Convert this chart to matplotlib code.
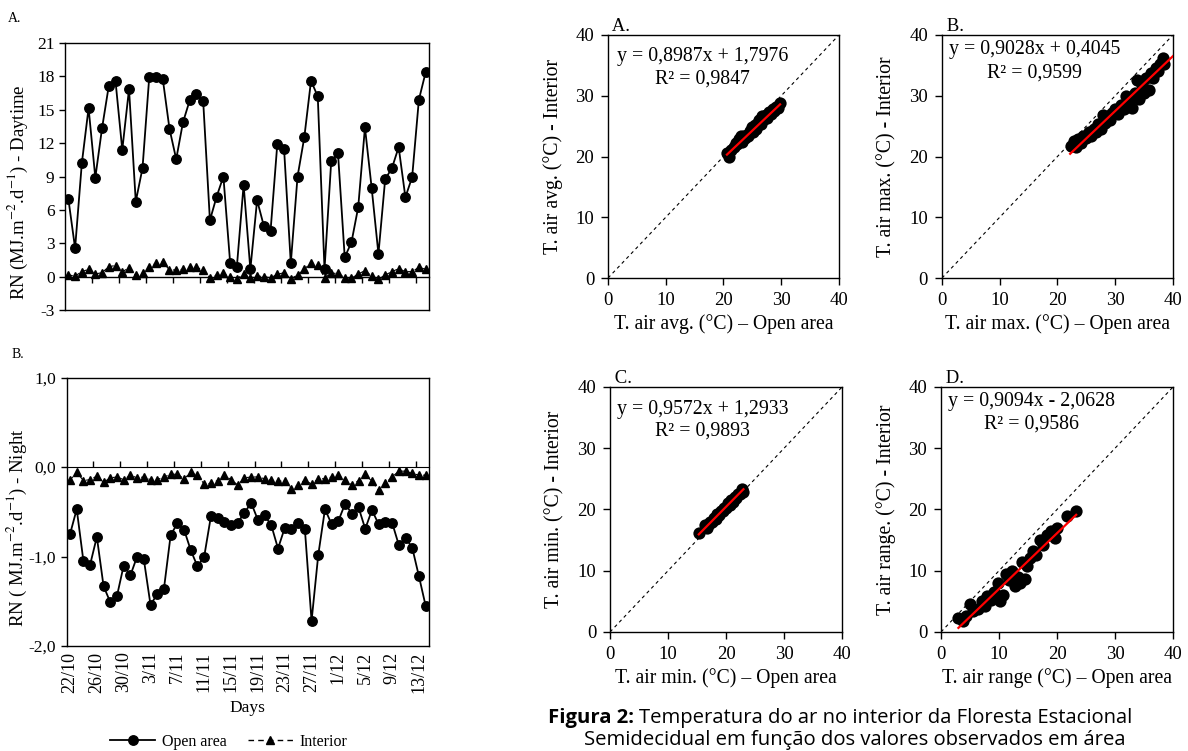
import numpy as np
import matplotlib
matplotlib.use('Agg')
import matplotlib.pyplot as plt
from matplotlib.lines import Line2D

plt.rcParams['font.family'] = ['Liberation Serif', 'DejaVu Serif']
plt.rcParams['mathtext.fontset'] = 'stix'

# ---------------- time series data (22/10 .. 14/12) ----------------
date_ticks = ["22/10", "26/10", "30/10", "3/11", "7/11", "11/11", "15/11",
              "19/11", "23/11", "27/11", "1/12", "5/12", "9/12", "13/12"]

open_day = [7.0, 2.55, 10.2, 15.15, 8.9, 13.35, 17.16, 17.55, 11.4, 16.86,
            6.75, 9.75, 17.94, 17.94, 17.8, 13.3, 10.56, 13.86, 15.84, 16.41,
            15.8, 5.07, 7.2, 9.0, 1.26, 0.9, 8.25, 0.66, 6.87, 4.56,
            4.14, 11.94, 11.49, 1.2, 9.0, 12.51, 17.61, 16.2, 0.66, 10.41,
            11.1, 1.74, 3.09, 6.24, 13.41, 7.95, 2.04, 8.76, 9.75, 11.64,
            7.14, 8.94, 15.9, 18.36]
int_day = [0.15, 0.06, 0.45, 0.66, 0.24, 0.36, 0.9, 1.0, 0.45, 0.78,
           0.12, 0.3, 0.9, 1.2, 1.32, 0.6, 0.6, 0.66, 0.84, 0.84,
           0.6, -0.1, 0.15, 0.3, 0.0, -0.2, 0.24, -0.15, 0.06, 0.0,
           -0.1, 0.2, 0.36, -0.2, 0.15, 0.66, 1.26, 1.05, -0.1, 0.3,
           0.3, -0.1, -0.15, 0.24, 0.54, 0.06, -0.24, 0.15, 0.45, 0.72,
           0.45, 0.45, 0.84, 0.66]
open_night = [-0.75, -0.47, -1.05, -1.09, -0.78, -1.33, -1.51, -1.44, -1.10, -1.21,
              -1.00, -1.03, -1.54, -1.42, -1.36, -0.76, -0.63, -0.70, -0.93, -1.11,
              -1.00, -0.55, -0.57, -0.61, -0.65, -0.62, -0.51, -0.40, -0.59, -0.54,
              -0.65, -0.91, -0.68, -0.69, -0.63, -0.69, -1.72, -0.98, -0.47, -0.64,
              -0.60, -0.41, -0.52, -0.45, -0.69, -0.48, -0.64, -0.61, -0.62, -0.87,
              -0.79, -0.90, -1.22, -1.55]
int_night = [-0.145, -0.06, -0.15, -0.14, -0.10, -0.17, -0.12, -0.11, -0.14, -0.09,
             -0.12, -0.11, -0.14, -0.14, -0.11, -0.08, -0.08, -0.13, -0.06, -0.09,
             -0.19, -0.18, -0.15, -0.09, -0.14, -0.20, -0.12, -0.11, -0.11, -0.13,
             -0.145, -0.16, -0.15, -0.24, -0.20, -0.145, -0.19, -0.13, -0.13, -0.11,
             -0.09, -0.145, -0.20, -0.15, -0.08, -0.16, -0.26, -0.18, -0.11, -0.045,
             -0.045, -0.07, -0.09, -0.09]

# ---------------- scatter data (open area vs interior) ----------------
avg_open = [20.6, 21.0, 21.3, 21.8, 22.1, 22.4, 22.7, 23.0, 23.2, 23.5, 23.8, 24.0,
            24.3, 24.6, 24.9, 25.1, 25.4, 25.7, 25.9, 26.2, 26.5, 26.7, 27.0, 27.3,
            27.6, 27.9, 28.2, 28.5, 28.8, 29.1, 29.4, 29.8]
avg_int = [20.6, 20.0, 21.0, 21.6, 22.3, 22.0, 22.8, 23.3, 22.4, 23.4, 23.0, 23.6,
           23.3, 24.2, 24.8, 24.1, 25.2, 24.6, 25.5, 26.0, 25.4, 26.6, 26.2, 26.9,
           26.4, 27.3, 27.0, 27.8, 27.5, 28.2, 28.0, 28.8]

max_open = [22.3, 22.8, 23.2, 23.6, 24.0, 24.5, 25.0, 25.4, 25.8, 26.3, 26.7, 27.1,
            27.5, 27.9, 28.3, 28.7, 29.1, 29.5, 30.0, 30.5, 31.0, 31.5, 31.9, 32.3,
            32.7, 33.0, 33.4, 33.8, 34.2, 34.6, 35.0, 35.4, 35.8, 36.2, 36.6, 37.0,
            37.4, 37.8, 38.2, 38.5]
max_int = [21.8, 22.5, 21.6, 22.8, 22.2, 23.4, 23.0, 24.0, 23.3, 24.6, 24.0, 25.3,
           24.6, 26.8, 25.5, 26.6, 26.0, 27.2, 27.8, 27.0, 28.4, 27.8, 30.0, 28.4,
           29.6, 28.0, 30.4, 32.6, 29.5, 31.8, 30.5, 32.9, 31.0, 33.8, 33.0, 34.5,
           34.0, 35.2, 36.2, 35.3]

min_open = [15.3, 16.3, 16.7, 17.0, 17.3, 17.6, 17.9, 18.2, 18.5, 18.8, 19.1, 19.4,
            19.7, 20.0, 20.3, 20.6, 20.9, 21.2, 21.5, 21.8, 22.1, 22.4, 22.7, 23.0]
min_int = [16.1, 17.5, 17.0, 17.6, 17.9, 18.0, 18.6, 18.5, 19.2, 19.1, 19.8, 19.7,
           20.3, 20.2, 21.0, 20.8, 21.5, 21.3, 22.0, 21.9, 22.6, 22.5, 23.3, 22.9]

rng_open = [3.0, 3.8, 4.3, 5.0, 5.6, 6.3, 7.0, 7.5, 8.0, 8.6, 9.2, 9.8, 10.2, 10.7,
            11.2, 11.8, 12.3, 12.8, 13.2, 13.6, 14.0, 14.4, 14.8, 15.3, 15.8, 16.4,
            17.0, 17.6, 18.3, 19.0, 19.6, 20.0, 21.8, 23.3]
rng_int = [2.2, 1.8, 2.6, 4.5, 3.5, 3.8, 5.0, 4.3, 5.8, 5.2, 6.5, 8.0, 5.0, 6.0,
           9.5, 8.5, 10.0, 7.5, 9.0, 8.0, 11.5, 8.6, 10.8, 12.0, 13.2, 12.5,
           15.0, 14.2, 15.8, 16.5, 15.3, 17.0, 19.0, 19.8]

fit_slope = [0.8987, 0.9028, 0.9572, 0.9094]
fit_icpt = [1.7976, 0.4045, 1.2933, -2.0628]
fit_xrange = [(20.6, 29.8), (22.2, 40.0), (15.3, 23.0), (3.0, 23.3)]
eq_text = ["y = 0,8987x + 1,7976", "y = 0,9028x + 0,4045",
           "y = 0,9572x + 1,2933", "y = 0,9094x - 2,0628"]
r2_text = ["R² = 0,9847", "R² = 0,9599", "R² = 0,9893", "R² = 0,9586"]
panel_letters = ["A.", "B.", "C.", "D."]

fig = plt.figure(figsize=(11.88, 7.51), dpi=100)

# ---------------- left time series ----------------
n = len(open_day)
xs = np.arange(n)
tick_pos = np.arange(0, n, 4)[:len(date_ticks)]
bound_pos = np.arange(3.5, n - 1, 4)

def series_axes(rect, yo, yi, ylim, yticks, yticklabels, ylabel):
    ax = fig.add_axes(rect)
    ax.plot(xs, yo, color='k', lw=1.3, marker='o', ms=6.8, zorder=3)
    ax.plot(xs, yi, color='k', lw=0.8, ls=(0, (4, 3)), marker='^', ms=5.5, zorder=3)
    ax.set_xlim(-0.5, n - 0.5)
    ax.set_ylim(*ylim)
    ax.set_yticks(yticks)
    ax.set_yticklabels(yticklabels, fontsize=12.5)
    ax.tick_params(axis='y', direction='out', length=4, width=1)
    for s in ax.spines.values():
        s.set_linewidth(1.0)
    ax.set_ylabel(ylabel, fontsize=13.5)
    ax.yaxis.set_label_coords(-0.095, 0.44)
    loc = (0 - ylim[0]) / (ylim[1] - ylim[0])
    sec = ax.secondary_xaxis(loc)
    sec.set_xticks(bound_pos)
    sec.set_xticklabels([])
    sec.tick_params(direction='out', length=4, width=1)
    sec.spines['bottom'].set_linewidth(1.0)
    return ax

axA = series_axes([0.0547, 0.5872, 0.3064, 0.3555], open_day, int_day, (-3, 21),
                  list(range(-3, 22, 3)), [str(v) for v in range(-3, 22, 3)],
                  r"RN (MJ.m$^{-2}$.d$^{-1}$) - Daytime")
axA.set_xticks([])

yt_night = [-2, -1, 0, 1]
axB = series_axes([0.0561, 0.1398, 0.3050, 0.3573], open_night, int_night, (-2, 1),
                  yt_night, ["-2,0", "-1,0", "0,0", "1,0"],
                  r"RN ( MJ.m$^{-2}$.d$^{-1}$) - Night")
axB.yaxis.set_label_coords(-0.105, 0.44)
axB.set_xticks(tick_pos)
axB.set_xticklabels(date_ticks, rotation=90, fontsize=13)
axB.tick_params(axis='x', length=0, pad=4)
axB.set_xlabel("Days", fontsize=12.5, labelpad=5)

fig.text(8 / 1188, 1 - 18 / 751, "A.", fontsize=10, va='center')
fig.text(12 / 1188, 1 - 355 / 751, "B.", fontsize=10, va='center')

handles = [Line2D([], [], color='k', lw=1.3, marker='o', ms=6.8),
           Line2D([], [], color='k', lw=1.0, ls=(0, (4, 3)), marker='^', ms=5.5)]
fig.legend(handles, ["Open area", "Interior"], loc='center', ncol=2,
           bbox_to_anchor=(229 / 1188, 1 - 742 / 751), frameon=False,
           fontsize=11.5, handlelength=2.8, columnspacing=1.3, handletextpad=0.45,
           borderpad=0.1)

# ---------------- right scatter panels ----------------
rects = [[0.5118, 0.6298, 0.1944, 0.3236], [0.7929, 0.6298, 0.1944, 0.3236],
         [0.5135, 0.1585, 0.1953, 0.3262], [0.7921, 0.1585, 0.1953, 0.3262]]
xdata = [avg_open, max_open, min_open, rng_open]
ydata = [avg_int, max_int, min_int, rng_int]
xlabels = ["T. air avg. (°C) – Open area", "T. air max. (°C) – Open area",
           "T. air min. (°C) – Open area", "T. air range (°C) – Open area"]
ylabels = ["T. air avg. (°C) - Interior", "T. air max. (°C) - Interior",
           "T. air min. (°C) - Interior", "T. air range. (°C) - Interior"]
eq_y = [(0.91, 0.82), (0.94, 0.845), (0.91, 0.82), (0.94, 0.85)]
eq_x = [0.41, 0.40, 0.40, 0.39]

for i in range(4):
    ax = fig.add_axes(rects[i])
    ax.plot([0, 40], [0, 40], color='k', lw=0.8, ls=(0, (3, 3)), zorder=1)
    ax.scatter(xdata[i], ydata[i], s=78, color='k', zorder=2, linewidths=0)
    x0, x1 = fit_xrange[i]
    ax.plot([x0, x1], [fit_slope[i] * x0 + fit_icpt[i], fit_slope[i] * x1 + fit_icpt[i]],
            color='#ff0000', lw=1.6, zorder=3)
    ax.set_xlim(0, 40)
    ax.set_ylim(0, 40)
    ax.set_xticks([0, 10, 20, 30, 40])
    ax.set_yticks([0, 10, 20, 30, 40])
    ax.tick_params(labelsize=13.5, direction='out', length=5, width=1, pad=5)
    for s in ax.spines.values():
        s.set_linewidth(1.0)
    ax.set_xlabel(xlabels[i], fontsize=14.2, labelpad=4)
    ax.set_ylabel(ylabels[i], fontsize=14.2, labelpad=9)
    ax.text(eq_x[i], eq_y[i][0], eq_text[i], transform=ax.transAxes, ha='center',
            va='center', fontsize=14.3)
    ax.text(eq_x[i], eq_y[i][1], r2_text[i], transform=ax.transAxes, ha='center',
            va='center', fontsize=14.3)
    ax.text(0.0, 1.0, " " + panel_letters[i], transform=ax.transAxes, ha='left',
            va='bottom', fontsize=13.5)

# ---------------- caption ----------------
cap_fs = 14.6
cap_fam = ['Open Sans', 'DejaVu Sans']
t1 = fig.text(548 / 1188, 1 - 718 / 751, "Figura 2:", fontsize=cap_fs,
              fontweight='bold', family=cap_fam, va='center')
fig.canvas.draw()
bb = t1.get_window_extent()
fig.text(bb.x1 / 1188 + 0.004, 1 - 718 / 751,
         "Temperatura do ar no interior da Floresta Estacional",
         fontsize=cap_fs, family=cap_fam, va='center')
fig.text(855 / 1188, 1 - 740 / 751,
         "Semidecidual em função dos valores observados em área",
         fontsize=cap_fs, family=cap_fam, va='center', ha='center')

fig.savefig("out.png", dpi=100)
